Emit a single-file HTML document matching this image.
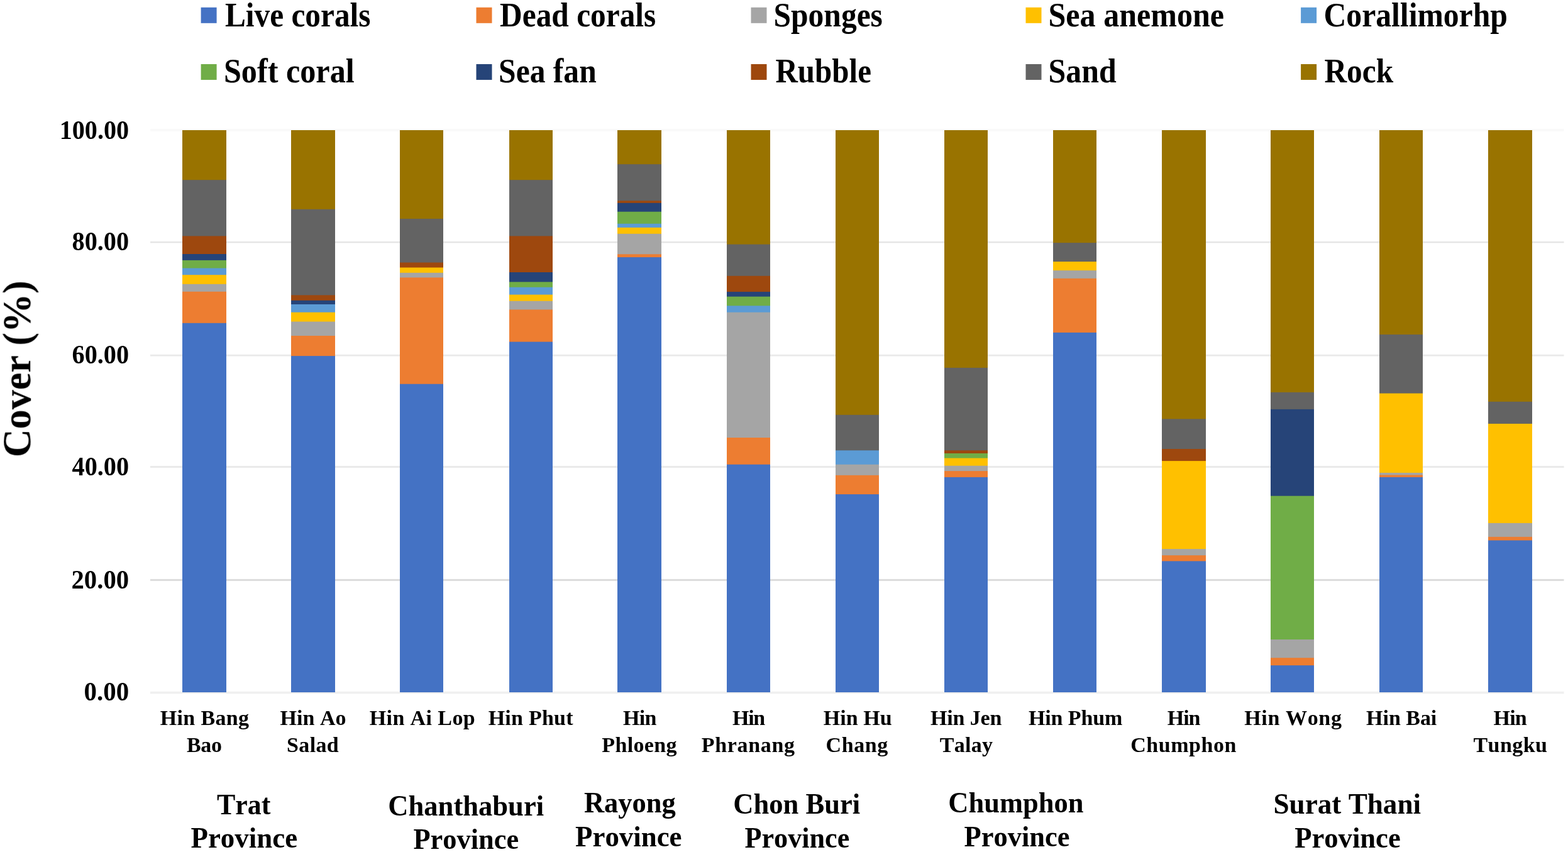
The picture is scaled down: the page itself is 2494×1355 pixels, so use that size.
<!DOCTYPE html>
<html lang="en"><head><meta charset="utf-8"><title>Cover (%) by site</title>
<style>html,body{margin:0;padding:0;background:#fff}body{width:2494px;height:1355px;overflow:hidden}svg{display:block}text{font-family:"Liberation Serif","DejaVu Serif",serif;font-weight:bold;fill:#000;font-kerning:none}</style>
</head><body>
<svg width="2494" height="1355" viewBox="0 0 2494 1355">
<rect x="0" y="0" width="2494" height="1355" fill="#fff"/>
<defs><filter id="soft" x="-2%" y="-2%" width="104%" height="104%" color-interpolation-filters="sRGB"><feGaussianBlur stdDeviation="0.65"/></filter></defs>
<g filter="url(#soft)">
<rect x="239.0" y="205.00" width="2248.5" height="3.60" fill="#f9f9f9"/>
<rect x="239.0" y="383.95" width="2248.5" height="2.50" fill="#e5e5e5"/>
<rect x="239.0" y="563.80" width="2248.5" height="2.80" fill="#eaeaea"/>
<rect x="239.0" y="741.00" width="2248.5" height="3.00" fill="#eaeaea"/>
<rect x="239.0" y="920.90" width="2248.5" height="3.00" fill="#dcdcdc"/>
<rect x="239.0" y="1099.2" width="2248.5" height="2" fill="#f5f5f5"/>
<rect x="239.0" y="1101.2" width="2248.5" height="1.8" fill="#ebebeb"/>
<g>
<rect x="290.0" y="207.0" width="70.0" height="894.0" fill="#997300"/>
<rect x="290.0" y="286.2" width="70.0" height="814.8" fill="#636363"/>
<rect x="290.0" y="375.4" width="70.0" height="725.6" fill="#9E480E"/>
<rect x="290.0" y="404.0" width="70.0" height="697.0" fill="#264478"/>
<rect x="290.0" y="413.9" width="70.0" height="687.1" fill="#70AD47"/>
<rect x="290.0" y="426.5" width="70.0" height="674.5" fill="#5B9BD5"/>
<rect x="290.0" y="437.2" width="70.0" height="663.8" fill="#FFC000"/>
<rect x="290.0" y="451.8" width="70.0" height="649.2" fill="#A5A5A5"/>
<rect x="290.0" y="463.8" width="70.0" height="637.2" fill="#ED7D31"/>
<rect x="290.0" y="513.8" width="70.0" height="587.2" fill="#4472C4"/>
<rect x="463.0" y="207.0" width="70.0" height="894.0" fill="#997300"/>
<rect x="463.0" y="332.8" width="70.0" height="768.2" fill="#636363"/>
<rect x="463.0" y="469.4" width="70.0" height="631.6" fill="#9E480E"/>
<rect x="463.0" y="477.8" width="70.0" height="623.2" fill="#264478"/>
<rect x="463.0" y="484.0" width="70.0" height="617.0" fill="#5B9BD5"/>
<rect x="463.0" y="496.7" width="70.0" height="604.3" fill="#FFC000"/>
<rect x="463.0" y="511.5" width="70.0" height="589.5" fill="#A5A5A5"/>
<rect x="463.0" y="534.0" width="70.0" height="567.0" fill="#ED7D31"/>
<rect x="463.0" y="566.1" width="70.0" height="534.9" fill="#4472C4"/>
<rect x="636.0" y="207.0" width="69.0" height="894.0" fill="#997300"/>
<rect x="636.0" y="347.9" width="69.0" height="753.1" fill="#636363"/>
<rect x="636.0" y="417.5" width="69.0" height="683.5" fill="#9E480E"/>
<rect x="636.0" y="425.5" width="69.0" height="675.5" fill="#FFC000"/>
<rect x="636.0" y="433.8" width="69.0" height="667.2" fill="#A5A5A5"/>
<rect x="636.0" y="441.4" width="69.0" height="659.6" fill="#ED7D31"/>
<rect x="636.0" y="610.7" width="69.0" height="490.3" fill="#4472C4"/>
<rect x="810.0" y="207.0" width="69.0" height="894.0" fill="#997300"/>
<rect x="810.0" y="286.2" width="69.0" height="814.8" fill="#636363"/>
<rect x="810.0" y="375.4" width="69.0" height="725.6" fill="#9E480E"/>
<rect x="810.0" y="433.0" width="69.0" height="668.0" fill="#264478"/>
<rect x="810.0" y="448.4" width="69.0" height="652.6" fill="#70AD47"/>
<rect x="810.0" y="456.8" width="69.0" height="644.2" fill="#5B9BD5"/>
<rect x="810.0" y="468.6" width="69.0" height="632.4" fill="#FFC000"/>
<rect x="810.0" y="478.7" width="69.0" height="622.3" fill="#A5A5A5"/>
<rect x="810.0" y="492.4" width="69.0" height="608.6" fill="#ED7D31"/>
<rect x="810.0" y="543.6" width="69.0" height="557.4" fill="#4472C4"/>
<rect x="982.0" y="207.0" width="70.0" height="894.0" fill="#997300"/>
<rect x="982.0" y="261.2" width="70.0" height="839.8" fill="#636363"/>
<rect x="982.0" y="319.3" width="70.0" height="781.7" fill="#9E480E"/>
<rect x="982.0" y="322.8" width="70.0" height="778.2" fill="#264478"/>
<rect x="982.0" y="336.7" width="70.0" height="764.3" fill="#70AD47"/>
<rect x="982.0" y="355.8" width="70.0" height="745.2" fill="#5B9BD5"/>
<rect x="982.0" y="361.9" width="70.0" height="739.1" fill="#FFC000"/>
<rect x="982.0" y="371.8" width="70.0" height="729.2" fill="#A5A5A5"/>
<rect x="982.0" y="404.3" width="70.0" height="696.7" fill="#ED7D31"/>
<rect x="982.0" y="409.1" width="70.0" height="691.9" fill="#4472C4"/>
<rect x="1156.0" y="207.0" width="69.0" height="894.0" fill="#997300"/>
<rect x="1156.0" y="388.6" width="69.0" height="712.4" fill="#636363"/>
<rect x="1156.0" y="438.8" width="69.0" height="662.2" fill="#9E480E"/>
<rect x="1156.0" y="464.1" width="69.0" height="636.9" fill="#264478"/>
<rect x="1156.0" y="471.7" width="69.0" height="629.3" fill="#70AD47"/>
<rect x="1156.0" y="486.3" width="69.0" height="614.7" fill="#5B9BD5"/>
<rect x="1156.0" y="496.7" width="69.0" height="604.3" fill="#A5A5A5"/>
<rect x="1156.0" y="696.0" width="69.0" height="405.0" fill="#ED7D31"/>
<rect x="1156.0" y="738.7" width="69.0" height="362.3" fill="#4472C4"/>
<rect x="1329.0" y="207.0" width="69.0" height="894.0" fill="#997300"/>
<rect x="1329.0" y="659.8" width="69.0" height="441.2" fill="#636363"/>
<rect x="1329.0" y="716.3" width="69.0" height="384.7" fill="#5B9BD5"/>
<rect x="1329.0" y="738.7" width="69.0" height="362.3" fill="#A5A5A5"/>
<rect x="1329.0" y="755.8" width="69.0" height="345.2" fill="#ED7D31"/>
<rect x="1329.0" y="786.1" width="69.0" height="314.9" fill="#4472C4"/>
<rect x="1502.0" y="207.0" width="69.0" height="894.0" fill="#997300"/>
<rect x="1502.0" y="584.9" width="69.0" height="516.1" fill="#636363"/>
<rect x="1502.0" y="716.3" width="69.0" height="384.7" fill="#9E480E"/>
<rect x="1502.0" y="721.0" width="69.0" height="380.0" fill="#70AD47"/>
<rect x="1502.0" y="728.6" width="69.0" height="372.4" fill="#FFC000"/>
<rect x="1502.0" y="740.7" width="69.0" height="360.3" fill="#A5A5A5"/>
<rect x="1502.0" y="749.1" width="69.0" height="351.9" fill="#ED7D31"/>
<rect x="1502.0" y="758.9" width="69.0" height="342.1" fill="#4472C4"/>
<rect x="1675.0" y="207.0" width="69.0" height="894.0" fill="#997300"/>
<rect x="1675.0" y="386.1" width="69.0" height="714.9" fill="#636363"/>
<rect x="1675.0" y="416.1" width="69.0" height="684.9" fill="#FFC000"/>
<rect x="1675.0" y="430.1" width="69.0" height="670.9" fill="#A5A5A5"/>
<rect x="1675.0" y="442.8" width="69.0" height="658.2" fill="#ED7D31"/>
<rect x="1675.0" y="528.9" width="69.0" height="572.1" fill="#4472C4"/>
<rect x="1848.0" y="207.0" width="70.0" height="894.0" fill="#997300"/>
<rect x="1848.0" y="666.3" width="70.0" height="434.7" fill="#636363"/>
<rect x="1848.0" y="714.0" width="70.0" height="387.0" fill="#9E480E"/>
<rect x="1848.0" y="733.1" width="70.0" height="367.9" fill="#FFC000"/>
<rect x="1848.0" y="873.1" width="70.0" height="227.9" fill="#A5A5A5"/>
<rect x="1848.0" y="883.2" width="70.0" height="217.8" fill="#ED7D31"/>
<rect x="1848.0" y="892.4" width="70.0" height="208.6" fill="#4472C4"/>
<rect x="2021.0" y="207.0" width="69.0" height="894.0" fill="#997300"/>
<rect x="2021.0" y="623.9" width="69.0" height="477.1" fill="#636363"/>
<rect x="2021.0" y="650.9" width="69.0" height="450.1" fill="#264478"/>
<rect x="2021.0" y="788.7" width="69.0" height="312.3" fill="#70AD47"/>
<rect x="2021.0" y="1017.0" width="69.0" height="84.0" fill="#A5A5A5"/>
<rect x="2021.0" y="1046.2" width="69.0" height="54.8" fill="#ED7D31"/>
<rect x="2021.0" y="1058.2" width="69.0" height="42.8" fill="#4472C4"/>
<rect x="2194.0" y="207.0" width="69.0" height="894.0" fill="#997300"/>
<rect x="2194.0" y="532.0" width="69.0" height="569.0" fill="#636363"/>
<rect x="2194.0" y="625.6" width="69.0" height="475.4" fill="#FFC000"/>
<rect x="2194.0" y="751.9" width="69.0" height="349.1" fill="#A5A5A5"/>
<rect x="2194.0" y="755.5" width="69.0" height="345.5" fill="#ED7D31"/>
<rect x="2194.0" y="758.9" width="69.0" height="342.1" fill="#4472C4"/>
<rect x="2367.0" y="207.0" width="70.0" height="894.0" fill="#997300"/>
<rect x="2367.0" y="638.8" width="70.0" height="462.2" fill="#636363"/>
<rect x="2367.0" y="673.9" width="70.0" height="427.1" fill="#FFC000"/>
<rect x="2367.0" y="831.9" width="70.0" height="269.1" fill="#A5A5A5"/>
<rect x="2367.0" y="853.8" width="70.0" height="247.2" fill="#ED7D31"/>
<rect x="2367.0" y="859.4" width="70.0" height="241.6" fill="#4472C4"/>
</g>
<text x="94.70" y="221.2" font-size="43.0" textLength="110.40" lengthAdjust="spacingAndGlyphs">100.00</text>
<text x="114.50" y="397.9" font-size="43.0" textLength="90.60" lengthAdjust="spacingAndGlyphs">80.00</text>
<text x="114.50" y="578.0" font-size="43.0" textLength="90.60" lengthAdjust="spacingAndGlyphs">60.00</text>
<text x="114.50" y="756.2" font-size="43.0" textLength="90.60" lengthAdjust="spacingAndGlyphs">40.00</text>
<text x="113.50" y="936.3" font-size="43.0" textLength="91.60" lengthAdjust="spacingAndGlyphs">20.00</text>
<text x="133.50" y="1114.0" font-size="43.0" textLength="71.60" lengthAdjust="spacingAndGlyphs">0.00</text>
<text transform="translate(48.2,727.2) rotate(-90)" x="0" y="0" font-size="63.5" textLength="281" lengthAdjust="spacingAndGlyphs">Cover (%)</text>
<rect x="319.6" y="11.8" width="25" height="25" fill="#4472C4"/>
<text x="357.90" y="41.5" font-size="54.0" textLength="231.60" lengthAdjust="spacingAndGlyphs">Live corals</text>
<rect x="757.5" y="11.8" width="25" height="25" fill="#ED7D31"/>
<text x="795.10" y="41.5" font-size="54.0" textLength="248.20" lengthAdjust="spacingAndGlyphs">Dead corals</text>
<rect x="1194.5" y="11.8" width="25" height="25" fill="#A5A5A5"/>
<text x="1230.50" y="41.5" font-size="54.0" textLength="173.40" lengthAdjust="spacingAndGlyphs">Sponges</text>
<rect x="1631.5" y="11.8" width="25" height="25" fill="#FFC000"/>
<text x="1667.50" y="41.5" font-size="54.0" textLength="279.60" lengthAdjust="spacingAndGlyphs">Sea anemone</text>
<rect x="2069.1" y="11.8" width="25" height="25" fill="#5B9BD5"/>
<text x="2105.50" y="41.5" font-size="54.0" textLength="292.40" lengthAdjust="spacingAndGlyphs">Corallimorhp</text>
<rect x="319.6" y="102" width="25" height="25" fill="#70AD47"/>
<text x="355.90" y="130.5" font-size="54.0" textLength="207.80" lengthAdjust="spacingAndGlyphs">Soft coral</text>
<rect x="757.5" y="102" width="25" height="25" fill="#264478"/>
<text x="793.10" y="130.5" font-size="54.0" textLength="155.60" lengthAdjust="spacingAndGlyphs">Sea fan</text>
<rect x="1194.5" y="102" width="25" height="25" fill="#9E480E"/>
<text x="1233.50" y="130.5" font-size="54.0" textLength="152.40" lengthAdjust="spacingAndGlyphs">Rubble</text>
<rect x="1631.5" y="102" width="25" height="25" fill="#636363"/>
<text x="1667.50" y="130.5" font-size="54.0" textLength="108.20" lengthAdjust="spacingAndGlyphs">Sand</text>
<rect x="2069.1" y="102" width="25" height="25" fill="#997300"/>
<text x="2106.50" y="130.5" font-size="54.0" textLength="109.60" lengthAdjust="spacingAndGlyphs">Rock</text>
<text x="254.70" y="1153.2" font-size="34.0" textLength="141.40" lengthAdjust="spacing">Hin Bang</text>
<text x="297.10" y="1195.5" font-size="34.0" textLength="55.80" lengthAdjust="spacing">Bao</text>
<text x="445.50" y="1153.2" font-size="34.0" textLength="105.00" lengthAdjust="spacing">Hin Ao</text>
<text x="456.10" y="1195.5" font-size="34.0" textLength="82.60" lengthAdjust="spacing">Salad</text>
<text x="587.70" y="1153.2" font-size="34.0" textLength="168.00" lengthAdjust="spacing">Hin Ai Lop</text>
<text x="776.70" y="1153.2" font-size="34.0" textLength="134.80" lengthAdjust="spacing">Hin Phut</text>
<text x="991.10" y="1153.2" font-size="34.0" textLength="53.20" lengthAdjust="spacing">Hin</text>
<text x="957.30" y="1195.5" font-size="34.0" textLength="119.20" lengthAdjust="spacing">Phloeng</text>
<text x="1165.10" y="1153.2" font-size="34.0" textLength="52.00" lengthAdjust="spacing">Hin</text>
<text x="1115.70" y="1195.5" font-size="34.0" textLength="148.40" lengthAdjust="spacing">Phranang</text>
<text x="1309.70" y="1153.2" font-size="34.0" textLength="109.00" lengthAdjust="spacing">Hin Hu</text>
<text x="1313.50" y="1195.5" font-size="34.0" textLength="98.80" lengthAdjust="spacing">Chang</text>
<text x="1479.90" y="1153.2" font-size="34.0" textLength="113.60" lengthAdjust="spacing">Hin Jen</text>
<text x="1494.70" y="1195.5" font-size="34.0" textLength="84.40" lengthAdjust="spacing">Talay</text>
<text x="1635.90" y="1153.2" font-size="34.0" textLength="149.40" lengthAdjust="spacing">Hin Phum</text>
<text x="1856.70" y="1153.2" font-size="34.0" textLength="52.80" lengthAdjust="spacing">Hin</text>
<text x="1798.30" y="1195.5" font-size="34.0" textLength="168.00" lengthAdjust="spacing">Chumphon</text>
<text x="1979.30" y="1153.2" font-size="34.0" textLength="154.60" lengthAdjust="spacing">Hin Wong</text>
<text x="2173.10" y="1153.2" font-size="34.0" textLength="112.20" lengthAdjust="spacing">Hin Bai</text>
<text x="2375.50" y="1153.2" font-size="34.0" textLength="53.20" lengthAdjust="spacing">Hin</text>
<text x="2343.50" y="1195.5" font-size="34.0" textLength="117.40" lengthAdjust="spacing">Tungku</text>
<text x="344.90" y="1294.5" font-size="45.5" textLength="85.40" lengthAdjust="spacingAndGlyphs">Trat</text>
<text x="303.50" y="1348.4" font-size="45.5" textLength="169.60" lengthAdjust="spacingAndGlyphs">Province</text>
<text x="617.30" y="1296.5" font-size="45.5" textLength="247.80" lengthAdjust="spacingAndGlyphs">Chanthaburi</text>
<text x="657.50" y="1349.8" font-size="45.5" textLength="167.60" lengthAdjust="spacingAndGlyphs">Province</text>
<text x="928.90" y="1292.3" font-size="45.5" textLength="146.00" lengthAdjust="spacingAndGlyphs">Rayong</text>
<text x="915.10" y="1345.6" font-size="45.5" textLength="169.40" lengthAdjust="spacingAndGlyphs">Province</text>
<text x="1166.30" y="1294.2" font-size="45.5" textLength="201.80" lengthAdjust="spacingAndGlyphs">Chon Buri</text>
<text x="1184.50" y="1348.4" font-size="45.5" textLength="166.80" lengthAdjust="spacingAndGlyphs">Province</text>
<text x="1508.30" y="1291.7" font-size="45.5" textLength="215.20" lengthAdjust="spacingAndGlyphs">Chumphon</text>
<text x="1533.50" y="1346.1" font-size="45.5" textLength="168.00" lengthAdjust="spacingAndGlyphs">Province</text>
<text x="2025.50" y="1294.2" font-size="45.5" textLength="234.60" lengthAdjust="spacingAndGlyphs">Surat Thani</text>
<text x="2059.30" y="1348.4" font-size="45.5" textLength="168.40" lengthAdjust="spacingAndGlyphs">Province</text>
</g>
</svg>
</body></html>
